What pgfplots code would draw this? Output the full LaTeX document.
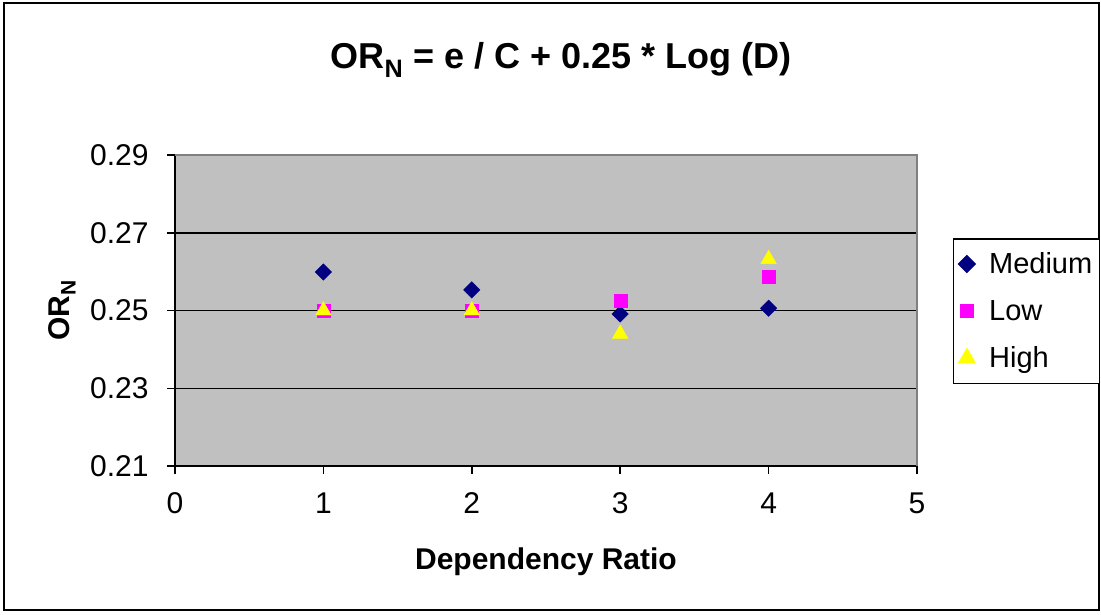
\documentclass[border=0pt]{standalone}
\usepackage{fontspec}
\setmainfont{Liberation Sans}
\usepackage{pgfplots}
\pgfplotsset{compat=1.18}
\definecolor{plotgray}{RGB}{192,192,192}
\definecolor{bordgray}{RGB}{128,128,128}
\definecolor{navy}{RGB}{0,0,128}
\definecolor{mag}{RGB}{255,0,255}
\definecolor{yel}{RGB}{255,255,0}
\begin{document}
\begin{tikzpicture}[x=1pt,y=1pt]
\path[use as bounding box] (0pt,0pt) rectangle (1101pt,614pt);
\draw[line width=2pt] (4pt,4pt) rectangle (1099pt,611pt);
\begin{axis}[
  at={(175pt,148pt)}, anchor=origin,
  width=742pt, height=311pt, scale only axis,
  xmin=0, xmax=5, ymin=0.21, ymax=0.29,
  xtick={0,1,2,3,4,5}, ytick={0.21,0.23,0.25,0.27,0.29},
  axis background/.style={fill=plotgray},
  axis x line*=bottom, axis y line*=left,
  axis line style={black, line width=1.8pt},
  ymajorgrids, major grid style={black, line width=1.5pt},
  tick align=outside, major tick length=8pt,
  tick style={black, line width=1.5pt},
  /pgf/number format/assume math mode=true,
  xticklabel style={font=\fontsize{30}{36}\selectfont, yshift=-15pt},
  yticklabel style={font=\fontsize{30}{36}\selectfont, xshift=-15pt, /pgf/number format/.cd, fixed, fixed zerofill, precision=2},
  xlabel={Dependency Ratio},
  xlabel style={font=\fontsize{30}{36}\selectfont\bfseries, at={(axis description cs:0.5,-0.309)}, anchor=center},
  ylabel={OR\textsubscript{N}},
  ylabel style={font=\fontsize{30}{36}\selectfont\bfseries, at={(axis description cs:-0.152,0.5)}, anchor=center},
  clip=false,
  legend style={at={(1.0485,0.733)}, anchor=north west, draw=black, line width=1.5pt,
    font=\fontsize{29}{35}\selectfont, row sep=21pt, column sep=12pt, inner xsep=5pt, inner ysep=12pt},
  legend cell align=left,
  after end axis/.code={\draw[bordgray, line width=2pt] (rel axis cs:0,1) -- (rel axis cs:1,1) -- (rel axis cs:1,0);},
]
\addplot[only marks, mark=square*, mark size=5.8pt, mark options={rotate=45}, color=navy, fill=navy] coordinates {(1,0.2599) (2,0.2553) (3,0.2491) (4,0.2506)};
\addlegendentry{Medium}
\addplot[only marks, mark=square*, mark size=6.5pt, color=mag, fill=mag] coordinates {(1,0.2500) (2,0.2500) (3,0.2525) (4,0.2587)};
\addlegendentry{Low}
\addplot[only marks, mark=triangle*, mark size=9pt, color=yel, fill=yel] coordinates {(1,0.2500) (2,0.2500) (3,0.2440) (4,0.2632)};
\addlegendentry{High}
\end{axis}
\node[font=\fontsize{36}{42}\selectfont\bfseries] at (561pt,554pt) {OR\textsubscript{N} = e / C + 0.25 * Log (D)};
\end{tikzpicture}
\end{document}
